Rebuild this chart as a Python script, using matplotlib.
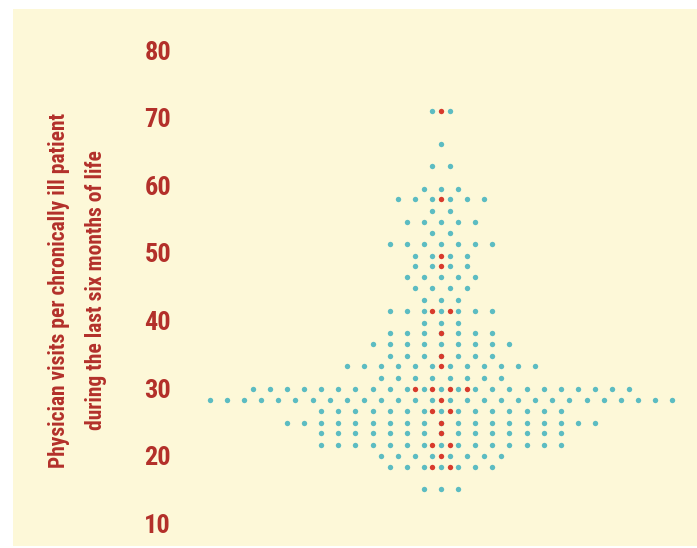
import numpy as np
import matplotlib
matplotlib.use("Agg")
from matplotlib import pyplot as plt
from matplotlib.patches import Rectangle

# visits per row of the swarm (top to bottom) and how many regions sit in each row
visit_levels = [71.0, 66.1, 62.8, 59.5, 57.9, 56.2, 54.6, 52.9, 51.3, 49.6,
                48.0, 46.4, 44.8, 43.0, 41.4, 39.7, 38.1, 36.5, 34.8, 33.2,
                31.5, 29.9, 28.2, 26.6, 24.9, 23.3, 21.6, 20.0, 18.3, 15.1]
n_regions = [2, 1, 2, 3, 6, 2, 5, 2, 7, 4,
             4, 5, 4, 3, 7, 3, 7, 9, 7, 12,
             8, 23, 28, 15, 19, 15, 15, 8, 7, 3]
n_highlight = [1, 0, 0, 0, 1, 0, 0, 0, 0, 1,
               1, 0, 0, 0, 2, 0, 1, 0, 1, 1,
               0, 4, 1, 2, 1, 1, 2, 1, 2, 0]
y_ticks = [10, 20, 30, 40, 50, 60, 70, 80]

teal = "#5cbcc2"
red = "#d83a2c"
text_red = "#b3302a"
cream = "#fdf8d8"
fonts = ["Roboto Condensed", "Liberation Sans Narrow", "Liberation Sans", "DejaVu Sans"]

W, H = 697, 548
fig = plt.figure(figsize=(W / 100, H / 100), dpi=100, facecolor="white")

#cream panel behind everything
fig.patches.append(Rectangle((13 / W, 2 / H), 1 - 13 / W, (H - 11) / H,
                             transform=fig.transFigure, facecolor=cream,
                             edgecolor="none", zorder=-5))

ax = fig.add_axes([185 / W, 1 - 540 / H, 512 / W, 510 / H])
ax.set_facecolor("none")
ax.set_zorder(2)


def swarm(count):
    #centered positions, one dot step apart every second slot
    return np.arange(count) * 2 - (count - 1)


tx, ty, rx, ry = [], [], [], []
for level, n, m in zip(visit_levels, n_regions, n_highlight):
    tx.extend(swarm(n))
    ty.extend([level] * n)
    rx.extend(swarm(m))
    ry.extend([level] * m)

ax.scatter(tx, ty, s=15, color=teal, linewidths=0, zorder=2)
ax.scatter(rx, ry, s=15, color=red, linewidths=0, zorder=3)

ax.set_xlim(-29.9, 29.9)
ax.set_ylim(7.54, 82.96)
ax.set_xticks([])
ax.set_yticks(y_ticks)
ax.set_yticklabels([str(t) for t in y_ticks], family=fonts,
                   fontweight="bold", fontsize=19, color=text_red)
ax.tick_params(axis="y", length=0, pad=10)
for s in ax.spines.values():
    s.set_visible(False)

fig.text(59 / W, 1 - 290 / H, "Physician visits per chronically ill patient",
         rotation=90, ha="center", va="center", family=fonts,
         fontweight="bold", fontsize=15.5, color=text_red)
fig.text(96 / W, 1 - 290 / H, "during the last six months of life",
         rotation=90, ha="center", va="center", family=fonts,
         fontweight="bold", fontsize=15.5, color=text_red)

fig.savefig("out.png", dpi=100, facecolor="white")
